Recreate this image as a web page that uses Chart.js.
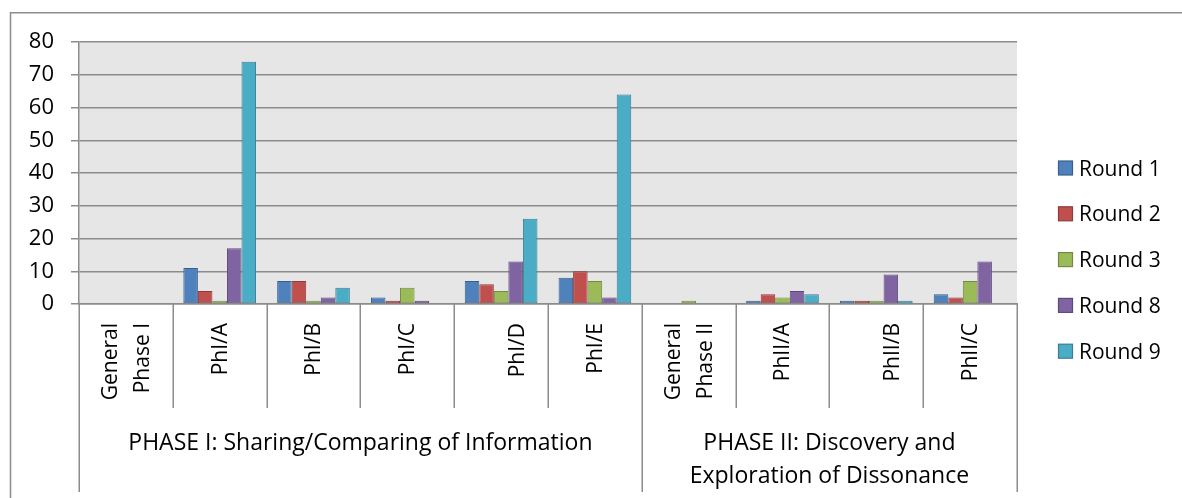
<!DOCTYPE html>
<html>
<head>
<meta charset="utf-8">
<script src="https://cdn.jsdelivr.net/npm/chart.js@4"></script>
<style>
  html, body { margin: 0; padding: 0; background: #ffffff; }
  #wrap { position: relative; width: 1182px; height: 498px; }
</style>
</head>
<body>
<div id="wrap"><canvas id="chart" width="1182" height="498"></canvas></div>
<script>
// Coded discussion messages per category, by round
const categories = [
  ['General', 'Phase I'], 'PhI/A', 'PhI/B', 'PhI/C', ['', 'PhI/D'], 'PhI/E',
  ['General', 'Phase II'], 'PhII/A', ['', 'PhII/B'], 'PhII/C'
];
const round1 = [0, 11, 7, 2, 7, 8, 0, 1, 1, 3];
const round2 = [0, 4, 7, 1, 6, 10, 0, 3, 1, 2];
const round3 = [0, 1, 1, 5, 4, 7, 1, 2, 1, 7];
const round8 = [0, 17, 2, 1, 13, 2, 0, 4, 9, 13];
const round9 = [0, 74, 5, 0, 26, 64, 0, 3, 1, 0];
const seriesNames = ['Round 1', 'Round 2', 'Round 3', 'Round 8', 'Round 9'];
const yTicks = [0, 10, 20, 30, 40, 50, 60, 70, 80];

// Phase groupings shown below the category labels
const phaseLabels = [
  ['PHASE I: Sharing/Comparing of Information'],
  ['PHASE II: Discovery and', 'Exploration of Dissonance']
];
const phaseSizes = [6, 4];

const fills = ['#4F81BD', '#C0504D', '#9BBB59', '#8064A2', '#4BACC6'];
const edges = ['#3A5F8C', '#8E3B39', '#728A41', '#5E4A78', '#377F93'];
const FONT = '"Open Sans", "Liberation Sans", sans-serif';
const GRID = '#8c8c8c';

const values = [round1, round2, round3, round8, round9];
const datasets = values.map((v, i) => ({
  label: seriesNames[i],
  data: v,
  backgroundColor: fills[i],
  borderColor: edges[i],
  borderWidth: (c) => (c.raw === 0 ? 0 : 1),
  borderSkipped: false,
  categoryPercentage: 0.775,
  barPercentage: 1.0
}));

const decorations = {
  id: 'decorations',
  beforeDraw(chart) {
    const { ctx, chartArea: a } = chart;
    ctx.save();
    // outer chart frame
    ctx.strokeStyle = GRID;
    ctx.lineWidth = 1.5;
    ctx.strokeRect(10.5, 12.75, 1400, 700);
    // plot background
    ctx.fillStyle = '#e6e6e6';
    ctx.fillRect(a.left, a.top, a.right - a.left, a.bottom - a.top);
    ctx.restore();
  },
  afterDraw(chart) {
    const { ctx, chartArea: a } = chart;
    const xs = chart.scales.x;
    const n = categories.length;
    const bounds = [];
    for (let i = 0; i <= n; i++) {
      if (i === 0) bounds.push(a.left);
      else if (i === n) bounds.push(a.right);
      else bounds.push((xs.getPixelForTick(i - 1) + xs.getPixelForTick(i)) / 2);
    }
    const groupEdges = [0];
    phaseSizes.forEach(s => groupEdges.push(groupEdges[groupEdges.length - 1] + s));

    ctx.save();
    ctx.strokeStyle = GRID;
    ctx.lineWidth = 1.5;
    bounds.forEach((bx, i) => {
      const long = groupEdges.includes(i);
      ctx.beginPath();
      ctx.moveTo(Math.round(bx) + 0.25, a.bottom);
      ctx.lineTo(Math.round(bx) + 0.25, long ? 492 : 408);
      ctx.stroke();
    });

    // category labels, written bottom-to-top, lines centred on the category
    ctx.fillStyle = '#000';
    ctx.font = '21px ' + FONT;
    ctx.textAlign = 'right';
    ctx.textBaseline = 'middle';
    categories.forEach((lab, i) => {
      const lines = Array.isArray(lab) ? lab : [lab];
      const cx = xs.getPixelForTick(i);
      lines.forEach((t, k) => {
        const off = (k - (lines.length - 1) / 2) * 32;
        ctx.save();
        ctx.translate(cx + off + 1, a.bottom + 19);
        ctx.rotate(-Math.PI / 2);
        ctx.fillText(t, 0, 0);
        ctx.restore();
      });
    });

    // phase group labels
    ctx.font = '23px ' + FONT;
    ctx.textAlign = 'center';
    ctx.textBaseline = 'alphabetic';
    phaseLabels.forEach((lines, g) => {
      const cx = (bounds[groupEdges[g]] + bounds[groupEdges[g + 1]]) / 2;
      lines.forEach((t, k) => ctx.fillText(t, cx, 450 + k * 33));
    });

    // legend
    ctx.font = '21px ' + FONT;
    ctx.textAlign = 'left';
    chart.data.datasets.forEach((ds, i) => {
      const cy = 168 + i * 45.8;
      ctx.fillStyle = ds.backgroundColor;
      ctx.fillRect(1058.5, cy - 7, 14, 14);
      ctx.strokeStyle = ds.borderColor;
      ctx.lineWidth = 1.2;
      ctx.strokeRect(1058.5, cy - 7, 14, 14);
      ctx.fillStyle = '#000';
      ctx.fillText(ds.label, 1079, cy + 7.5);
    });
    ctx.restore();
  }
};

new Chart(document.getElementById('chart'), {
  type: 'bar',
  data: { labels: categories, datasets },
  plugins: [decorations],
  options: {
    responsive: false,
    animation: false,
    layout: { padding: { left: 0, top: 42, right: 165, bottom: 0 } },
    plugins: {
      legend: { display: false },
      tooltip: { enabled: false }
    },
    scales: {
      y: {
        min: 0,
        max: 80,
        afterFit: (s) => { s.width = 79; },
        afterBuildTicks: (s) => { s.ticks = yTicks.map(v => ({ value: v })); },
        ticks: {
          color: '#000',
          padding: 17,
          font: { family: FONT, size: 22 }
        },
        grid: { color: GRID, lineWidth: 1.5, tickLength: 8 },
        border: { display: true, color: GRID, width: 1.5 }
      },
      x: {
        afterFit: (s) => { s.height = 194; },
        ticks: { display: false },
        grid: { display: false },
        border: { display: true, color: GRID, width: 1.5 }
      }
    }
  }
});
</script>
</body>
</html>
